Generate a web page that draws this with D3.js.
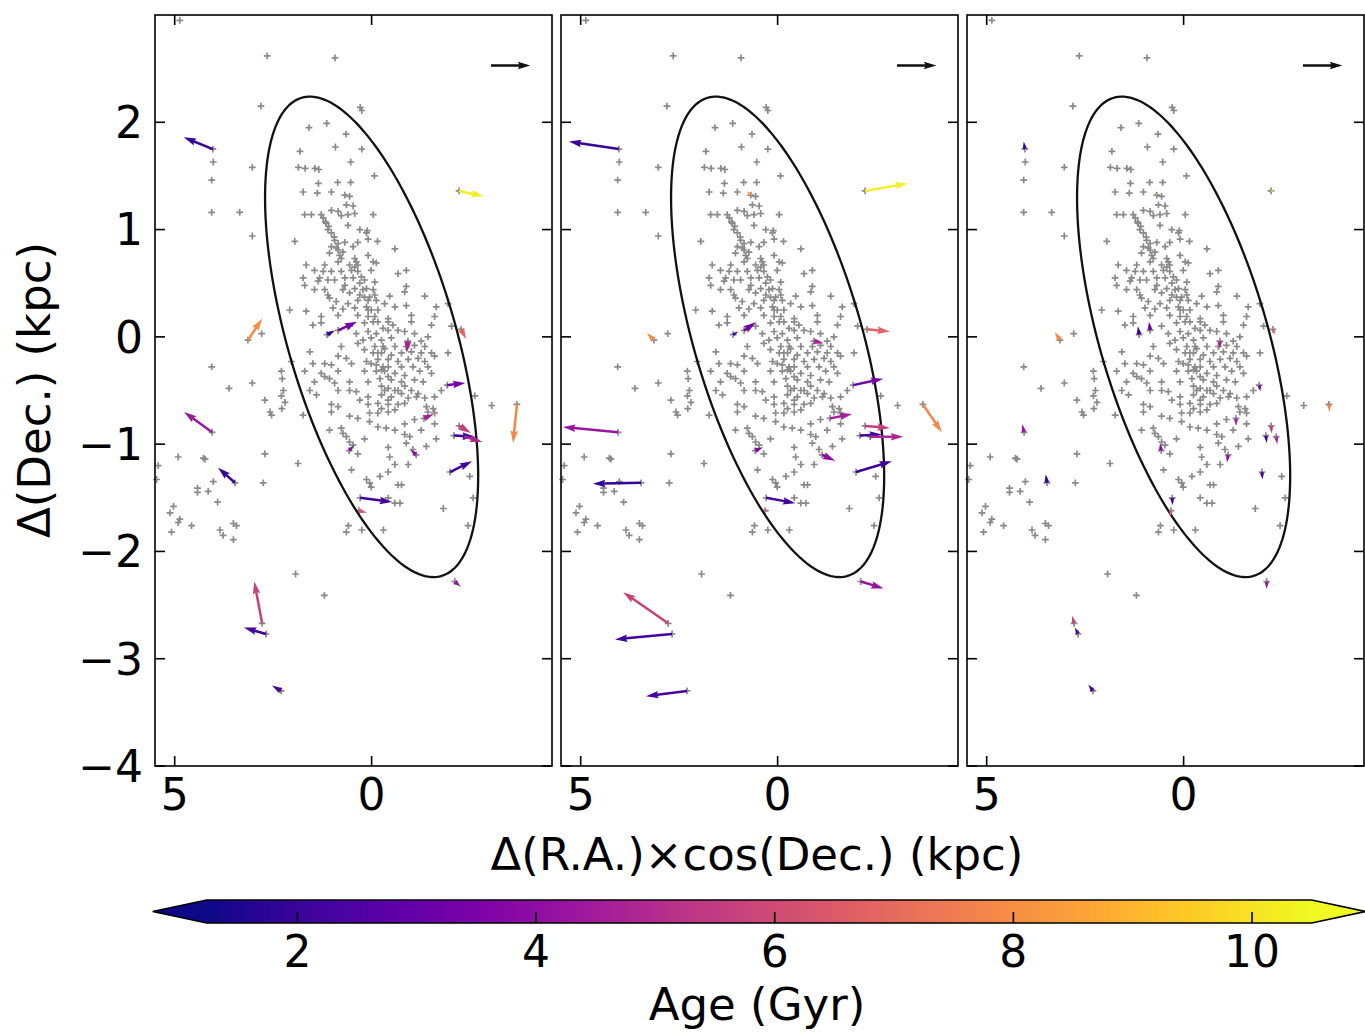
<!DOCTYPE html>
<html><head><meta charset="utf-8">
<script src="https://cdn.jsdelivr.net/npm/d3@7"></script>
<style>body{margin:0;background:#fff}svg text{font-family:"DejaVu Sans",sans-serif}</style>
</head><body><svg id="c" width="1365" height="1032"></svg>
<script>
// ---- data: star positions [Δ(R.A.)cos(Dec.), Δ(Dec.)] in kpc ----
const starsOuter = [[4.87,2.95],[2.65,2.62],[0.93,2.60],[2.81,2.15],[0.29,2.14],[0.25,2.11],
[1.59,1.95],[1.14,1.99],[0.65,1.89],[1.82,1.73],[0.92,1.77],[0.25,1.75],[4.02,1.63],[3.03,1.58],[1.86,1.58],[1.69,1.57],[1.44,1.57],[1.34,1.56],[0.53,1.63],
[4.06,1.46],[1.35,1.43],[0.86,1.44],[0.53,1.44],[-0.07,1.50],[4.06,1.16],[3.35,1.16],[3.03,0.94],[2.79,0.03],[4.06,-0.28],[2.29,-0.32],[2.27,-0.39],
[3.62,-0.48],[3.03,-0.43],[2.24,-0.50],[2.29,-0.55],[2.20,-0.61],[2.58,-0.70],[2.54,-0.73],[2.71,-0.59],[2.28,-0.67],[2.71,-1.09],[4.91,-1.12],[4.27,-1.13],[4.23,-1.14],
[-2.62,-0.55],[-3.05,-0.64],[5.42,-1.20],[-2.49,-1.30],[5.46,-1.33],[4.02,-1.35],[2.75,-1.36],[4.42,-1.41],[4.42,-1.45],[4.15,-1.44],[3.91,-1.54],
[-0.42,-1.50],[-0.59,-1.55],[-0.72,-1.55],[-2.58,-1.50],[-1.82,-1.60],[5.03,-1.58],[5.12,-1.64],[4.87,-1.70],[4.91,-1.73],[4.57,-1.76],[3.85,-1.80],[3.77,-1.85],[3.51,-1.74],[3.43,-1.76],[3.51,-1.89],[5.08,-1.82],
[0.59,-1.76],[0.64,-1.82],[0.25,-1.80],[-0.30,-1.80],[-2.45,-1.76],[1.93,-2.21],[1.20,-2.41]];
const starsCore = [[1.74,1.35],[1.38,1.34],[1.02,1.35],[0.56,1.31],
[0.64,1.23],[0.47,1.22],[1.02,1.18],[0.85,1.17],[1.70,1.14],[1.53,1.14],[1.28,1.14],[0.77,1.13],[0.60,1.14],[0.43,1.15],[-0.04,1.14],[1.23,1.11],
[1.15,1.06],[0.60,1.04],[1.11,1.00],[1.02,0.97],[0.30,1.00],[0.11,0.99],[0.13,0.97],[1.17,1.07],[1.09,1.03],[0.95,0.93],[0.85,0.81],[0.73,0.79],
[1.95,0.89],[0.94,0.90],[0.85,0.87],[0.68,0.88],[0.35,0.88],[0.09,0.91],[-0.15,0.89],[1.02,0.84],[0.90,0.83],[0.47,0.84],[-0.59,0.82],
[1.07,0.78],[0.81,0.76],[0.77,0.73],[0.43,0.73],[0.39,0.70],[0.09,0.76],[0.85,0.70],[0.56,0.67],[0.35,0.67],[-0.04,0.70],[-0.12,0.69],[1.66,0.67],[1.19,0.67],
[1.45,0.62],[1.23,0.61],[1.02,0.61],[0.77,0.61],[0.51,0.62],[0.35,0.61],[0.01,0.62],[-0.67,0.59],[-0.88,0.62],[1.74,0.55],[1.32,0.55],[1.11,0.53],[0.94,0.53],[0.68,0.55],[0.47,0.55],[0.18,0.53],[-0.08,0.51],[1.70,0.48],[1.36,0.52],[0.68,0.48],[0.30,0.50],
[1.45,0.44],[1.19,0.44],[0.73,0.44],[0.43,0.45],[0.13,0.45],[-0.04,0.44],[-0.88,0.47],[1.11,0.39],[0.56,0.41],[0.30,0.39],[0.18,0.37],[-0.08,0.39],[-0.46,0.38],[-0.84,0.42],[-1.35,0.38],[1.07,0.36],
[0.90,0.33],[0.60,0.31],[0.35,0.34],[0.09,0.34],[-0.12,0.34],[-0.33,0.31],[-0.59,0.28],[-0.88,0.29],[2.08,0.25],[1.66,0.24],[0.98,0.27],[0.73,0.26],[0.43,0.27],[0.13,0.28],[0.01,0.25],[-0.16,0.25],[-1.64,0.28],[-1.94,0.31],
[1.28,0.19],[0.85,0.20],[0.35,0.20],[0.09,0.19],[-0.08,0.19],[-0.42,0.17],[-1.01,0.20],[-1.60,0.19],[1.49,0.11],[1.28,0.13],[0.56,0.10],[0.18,0.13],[-0.16,0.14],[-0.42,0.14],[-0.54,0.11],[-1.01,0.14],[-1.52,0.11],[-2.03,0.10],
[0.39,0.03],[0.09,0.05],[-0.12,0.03],[-0.42,0.06],[-0.67,0.06],[-0.84,0.05],[-1.09,0.03],[0.22,-0.03],[0.01,-0.01],[-0.25,-0.03],[-0.50,-0.01],[-1.26,-0.04],[-1.43,0.00],
[1.57,-0.14],[0.77,-0.09],[-0.08,-0.09],[-0.33,-0.11],[-0.59,-0.09],[-0.88,-0.09],[-1.09,-0.08],[-1.35,-0.09],[-0.04,-0.15],[-0.25,-0.15],[-0.50,-0.17],[-0.76,-0.15],[-1.01,-0.14],[-1.26,-0.15],[-1.52,-0.15],[-1.94,-0.15],[2.04,-0.23],
[0.85,-0.18],[0.64,-0.20],[0.13,-0.23],[-0.16,-0.21],[-0.42,-0.21],[-0.67,-0.23],[-0.93,-0.21],[-1.18,-0.20],[-1.35,-0.23],[-1.60,-0.18],[1.49,-0.25],[1.19,-0.25],[0.51,-0.25],[1.02,-0.26],[-0.12,-0.26],[-0.42,-0.28],[-0.76,-0.28],[-1.05,-0.28],[-1.43,-0.28],
[1.70,-0.32],[1.28,-0.34],[1.19,-0.37],[1.07,-0.39],[0.85,-0.32],[0.18,-0.32],[-0.12,-0.32],[-0.33,-0.32],[-0.59,-0.34],[-0.84,-0.36],[-1.22,-0.32],[-1.52,-0.34],
[1.45,-0.42],[0.94,-0.43],[0.56,-0.42],[0.09,-0.42],[-0.21,-0.39],[-0.50,-0.40],[-0.76,-0.42],[-1.09,-0.40],[-1.31,-0.42],[-1.77,-0.50],
[1.57,-0.50],[0.85,-0.50],[0.56,-0.50],[0.39,-0.51],[-0.25,-0.46],[-0.42,-0.48],[-0.67,-0.50],[-1.01,-0.50],[-1.18,-0.53],[-1.35,-0.57],[1.40,-0.54],[0.30,-0.59],[0.09,-0.56],[-0.25,-0.54],[-0.50,-0.56],[-0.76,-0.53],[-0.93,-0.57],[-1.14,-0.56],[-1.60,-0.56],
[1.02,-0.63],[0.85,-0.65],[0.09,-0.63],[-0.16,-0.62],[-0.42,-0.63],[-0.67,-0.63],[-0.84,-0.62],[-1.39,-0.65],[-1.56,-0.67],[1.74,-0.73],[1.02,-0.70],[0.56,-0.74],[0.35,-0.76],[0.05,-0.71],[-0.16,-0.71],[-0.42,-0.70],[-0.59,-0.68],[-1.43,-0.70],[-1.60,-0.71],
[1.07,-0.87],[0.77,-0.85],[0.73,-0.90],[0.05,-0.79],[-0.16,-0.84],[-0.37,-0.85],[-0.59,-0.87],[-0.84,-0.81],[-1.09,-0.77],[-1.60,-0.81],[0.64,-0.93],[0.18,-0.95],[-0.84,-0.91],[-0.97,-0.93],[-1.26,-0.87],[-1.64,-0.95],
[0.56,-0.98],[0.47,-1.01],[-0.42,-1.03],[-0.88,-0.99],[-1.05,-1.05],[-1.39,-1.02],[0.35,-1.09],[-0.46,-1.12],
[1.87,-1.18],[-0.59,-1.19],[-0.93,-1.19],[0.51,-1.24],[-0.21,-1.30],[0.13,-1.33],[0.05,-1.36],[0.01,-1.40],[-0.67,-1.38],[-0.76,-1.38],[-0.42,-1.26],
[0.43,0.65],[0.26,0.56],[0.22,0.44],[0.05,0.37],[0.09,0.25],[-0.04,0.14],[-0.29,0.08],[-0.29,-0.09],[-0.16,-0.15],[-0.29,-0.28],[-0.42,-0.37],[-0.33,-0.50],[-0.42,-0.59],[-0.25,-0.67],[-0.59,-0.50],[-0.84,-0.46],[-0.25,-0.31],[0.01,-0.25],[0.18,-0.12],[0.35,-0.06]];

// stars that carry velocity arrows
const arrowRA  = [4.03,-2.22,3.14,4.05,3.47,2.78,2.68,2.30,-3.69,-2.27,-1.92,-2.09,-2.22,-2.35,-1.99,0.29,0.32,-2.11,-1.33,-1.13,0.57,1.13,0.85,-0.92,0.68];
const arrowDec = [1.75,1.36,-0.03,-0.89,-1.36,-2.67,-2.77,-3.30,-0.63,0.07,-0.45,-0.92,-0.83,-0.93,-1.26,-1.50,-1.62,-2.28,-0.76,-1.10,-1.06,0.02,0.06,-0.04,1.32];
const arrowAge = [2.0,10.3,7.9,4.3,1.9,5.7,2.2,2.3,7.8,6.8,3.3,2.2,5.6,4.8,2.1,2.2,6.5,4.2,4.6,4.0,3.8,1.9,3.3,4.7,8.2];
// arrow components per panel (kpc-equivalent)
const u1 = [0.74,-0.63,-0.36,0.71,0.43,0.20,0.56,0.23,0.10,-0.13,-0.46,-0.53,-0.30,-0.46,-0.56,-0.81,-0.20,-0.15,-0.25,0.15,-0.12,-0.20,-0.48,0.03,0];
const v1 = [0.11,-0.05,0.20,0.19,0.14,0.39,0.06,0.05,-0.36,-0.09,0.02,-0.01,-0.065,-0.05,0.10,-0.04,-0.02,-0.05,0.04,0.05,0.05,0.04,0.08,-0.11,0];
const u2 = [1.27,-1.09,0.18,1.40,1.22,1.14,1.45,1.04,-0.48,-0.58,-0.76,-0.56,-0.63,-0.84,-0.91,-0.74,-0.12,-0.58,-0.56,-0.33,-0.20,-0.13,-0.30,-0.25,0.10];
const v2 = [0.07,0.07,0.065,0.05,-0.01,0.29,-0.05,-0.05,-0.26,-0.02,0.06,0.01,-0.02,0,0.10,-0.05,0,-0.065,0.04,-0.055,0.03,0.03,0.075,-0.02,0.04];
const u3 = [0.03,-0.08,0.13,0.05,0.03,0.05,0.08,0.12,-0.02,-0.05,-0.03,-0.02,-0.02,-0.03,-0.01,-0.01,0.03,0,0,0.03,0.03,0.03,0.03,0,0.05];
const v3 = [0.07,0,0.075,0.075,0.08,0.07,0.06,0.06,-0.07,-0.05,-0.06,-0.07,-0.07,-0.07,-0.07,-0.07,-0.06,-0.07,-0.07,-0.07,0.07,0.08,0.08,-0.07,0.03];
const refArrow = {ra: -3.03, dec: 2.53, u: -1.0, v: 0};
const ellipseAxes = {a: 3.14, b: 1.573, angleDeg: 35.9};
const xTicks = [5, 0];
const yTicks = [-4, -3, -2, -1, 0, 1, 2];
const cbTicks = [2, 4, 6, 8, 10];
const ageRange = [1.24, 10.5];

// ---- layout ----
const svg = d3.select("#c");
const panelLeft = [155, 561, 967], panelW = 397, pTop = 15, pBottom = 766;
const FS = 44, FT = 45;
const yS = d3.scaleLinear().domain([-4, 3]).range([pBottom, pTop]);
const cmap = a => d3.interpolatePlasma(Math.max(0, Math.min(1, (a - ageRange[0]) / (ageRange[1] - ageRange[0]))));

function arrowPath(x0, y0, dx, dy) {
  const L = Math.hypot(dx, dy);
  if (L < 0.8) return null;
  const w = 2.5, hl = 12.5, hal = 11.2, hw = 7.5;
  let pts;
  if (L >= hl) {
    pts = [[0,-w/2],[L-hal,-w/2],[L-hl,-hw/2],[L,0],[L-hl,hw/2],[L-hal,w/2],[0,w/2]];
  } else {
    const s = L / hl;
    pts = [[0,-w/2],[hl-hal,-w/2],[0,-hw/2],[hl,0],[0,hw/2],[hl-hal,w/2],[0,w/2]].map(p => [p[0]*s, p[1]*s]);
  }
  const c = dx / L, sn = dy / L;
  return "M" + pts.map(p => [x0 + p[0]*c - p[1]*sn, y0 + p[0]*sn + p[1]*c].map(v => v.toFixed(2)).join(",")).join("L") + "Z";
}

const us = [u1, u2, u3], vs = [v1, v2, v3];
const allStars = starsOuter.concat(starsCore, arrowRA.map((r, i) => [r, arrowDec[i]]));
panelLeft.forEach((L0, pi) => {
  const xS = d3.scaleLinear().domain([5.5, -4.58]).range([L0, L0 + panelW]);
  const g = svg.append("g");
  const h = 3.4;
  const plus = d => { const x = xS(d[0]), y = yS(d[1]); return `M${(x-h).toFixed(1)},${y.toFixed(1)}h${2*h}M${x.toFixed(1)},${(y-h).toFixed(1)}v${2*h}`; };
  g.append("path").attr("d", allStars.map(plus).join("")).attr("stroke", "#8a8a8a").attr("stroke-width", 1.7).attr("fill", "none");
  const th = ellipseAxes.angleDeg * Math.PI / 180;
  const ell = d3.range(0, 360, 2).map(t => {
    const a = t * Math.PI / 180;
    const ex = ellipseAxes.a * Math.cos(a), ey = ellipseAxes.b * Math.sin(a);
    return [xS(ex * Math.cos(th) - ey * Math.sin(th)), yS(ex * Math.sin(th) + ey * Math.cos(th))];
  });
  g.append("path").attr("d", d3.line().curve(d3.curveLinearClosed)(ell)).attr("fill", "none").attr("stroke", "#111").attr("stroke-width", 2.3);
  arrowRA.forEach((r, i) => {
    const ax = xS(r), ay = yS(arrowDec[i]);
    const dx = xS(r + us[pi][i]) - ax, dy = yS(arrowDec[i] + vs[pi][i]) - ay;
    const p = arrowPath(ax, ay, dx, dy);
    if (p) g.append("path").attr("d", p).attr("fill", cmap(arrowAge[i])).attr("stroke", "none");
  });
  {
    const ax = xS(refArrow.ra), ay = yS(refArrow.dec);
    g.append("path").attr("d", arrowPath(ax, ay, xS(refArrow.ra + refArrow.u) - ax, yS(refArrow.dec + refArrow.v) - ay)).attr("fill", "#111");
  }
  g.append("rect").attr("x", L0).attr("y", pTop).attr("width", panelW).attr("height", pBottom - pTop).attr("fill", "none").attr("stroke", "#000").attr("stroke-width", 1.6);
  const tk = 10;
  xTicks.forEach(t => {
    const x = xS(t);
    g.append("line").attr("x1", x).attr("x2", x).attr("y1", pBottom).attr("y2", pBottom - tk).attr("stroke", "#000").attr("stroke-width", 1.6);
    g.append("line").attr("x1", x).attr("x2", x).attr("y1", pTop).attr("y2", pTop + tk).attr("stroke", "#000").attr("stroke-width", 1.6);
    g.append("text").attr("x", x).attr("y", pBottom + 44).attr("text-anchor", "middle").attr("font-size", FS).text(t);
  });
  yTicks.forEach(t => {
    const y = yS(t);
    g.append("line").attr("x1", L0).attr("x2", L0 + tk).attr("y1", y).attr("y2", y).attr("stroke", "#000").attr("stroke-width", 1.6);
    g.append("line").attr("x1", L0 + panelW).attr("x2", L0 + panelW - tk).attr("y1", y).attr("y2", y).attr("stroke", "#000").attr("stroke-width", 1.6);
    if (pi === 0) g.append("text").attr("x", L0 - 12).attr("y", y).attr("dy", "0.36em").attr("text-anchor", "end").attr("font-size", FS).text(t < 0 ? "\u2212" + Math.abs(t) : t);
  });
});

svg.append("text").attr("x", 757).attr("y", 870).attr("text-anchor", "middle").attr("font-size", FT).text("Δ(R.A.)×cos(Dec.) (kpc)");
svg.append("text").attr("transform", "translate(50,390) rotate(-90)").attr("text-anchor", "middle").attr("font-size", FT).text("Δ(Dec.) (kpc)");

// ---- colorbar ----
const cbX = d3.scaleLinear().domain(ageRange).range([206.7, 1311.7]);
const cbTop = 900, cbH = 23, ext = 54;
const defs = svg.append("defs");
const grad = defs.append("linearGradient").attr("id", "plasma");
d3.range(0, 1.0001, 0.05).forEach(t => grad.append("stop").attr("offset", t).attr("stop-color", d3.interpolatePlasma(t)));
const cx0 = cbX(ageRange[0]), cx1 = cbX(ageRange[1]), cym = cbTop + cbH / 2;
svg.append("path").attr("d", `M${cx0 + 1},${cbTop}L${cx0 - ext},${cym}L${cx0 + 1},${cbTop + cbH}Z`).attr("fill", d3.interpolatePlasma(0));
svg.append("path").attr("d", `M${cx1 - 1},${cbTop}L${cx1 + ext},${cym}L${cx1 - 1},${cbTop + cbH}Z`).attr("fill", d3.interpolatePlasma(1));
svg.append("rect").attr("x", cx0).attr("y", cbTop).attr("width", cx1 - cx0).attr("height", cbH).attr("fill", "url(#plasma)");
svg.append("path").attr("d", `M${cx0},${cbTop}H${cx1}L${cx1 + ext},${cym}L${cx1},${cbTop + cbH}H${cx0}L${cx0 - ext},${cym}Z`).attr("fill", "none").attr("stroke", "#000").attr("stroke-width", 1.6);
cbTicks.forEach(t => {
  svg.append("line").attr("x1", cbX(t)).attr("x2", cbX(t)).attr("y1", cbTop + cbH).attr("y2", cbTop + cbH - 11).attr("stroke", "#000").attr("stroke-width", 1.6);
  svg.append("text").attr("x", cbX(t)).attr("y", cbTop + cbH + 44).attr("text-anchor", "middle").attr("font-size", FS).text(t);
});
svg.append("text").attr("x", 757).attr("y", 1020).attr("text-anchor", "middle").attr("font-size", FT).text("Age (Gyr)");
</script></body></html>
